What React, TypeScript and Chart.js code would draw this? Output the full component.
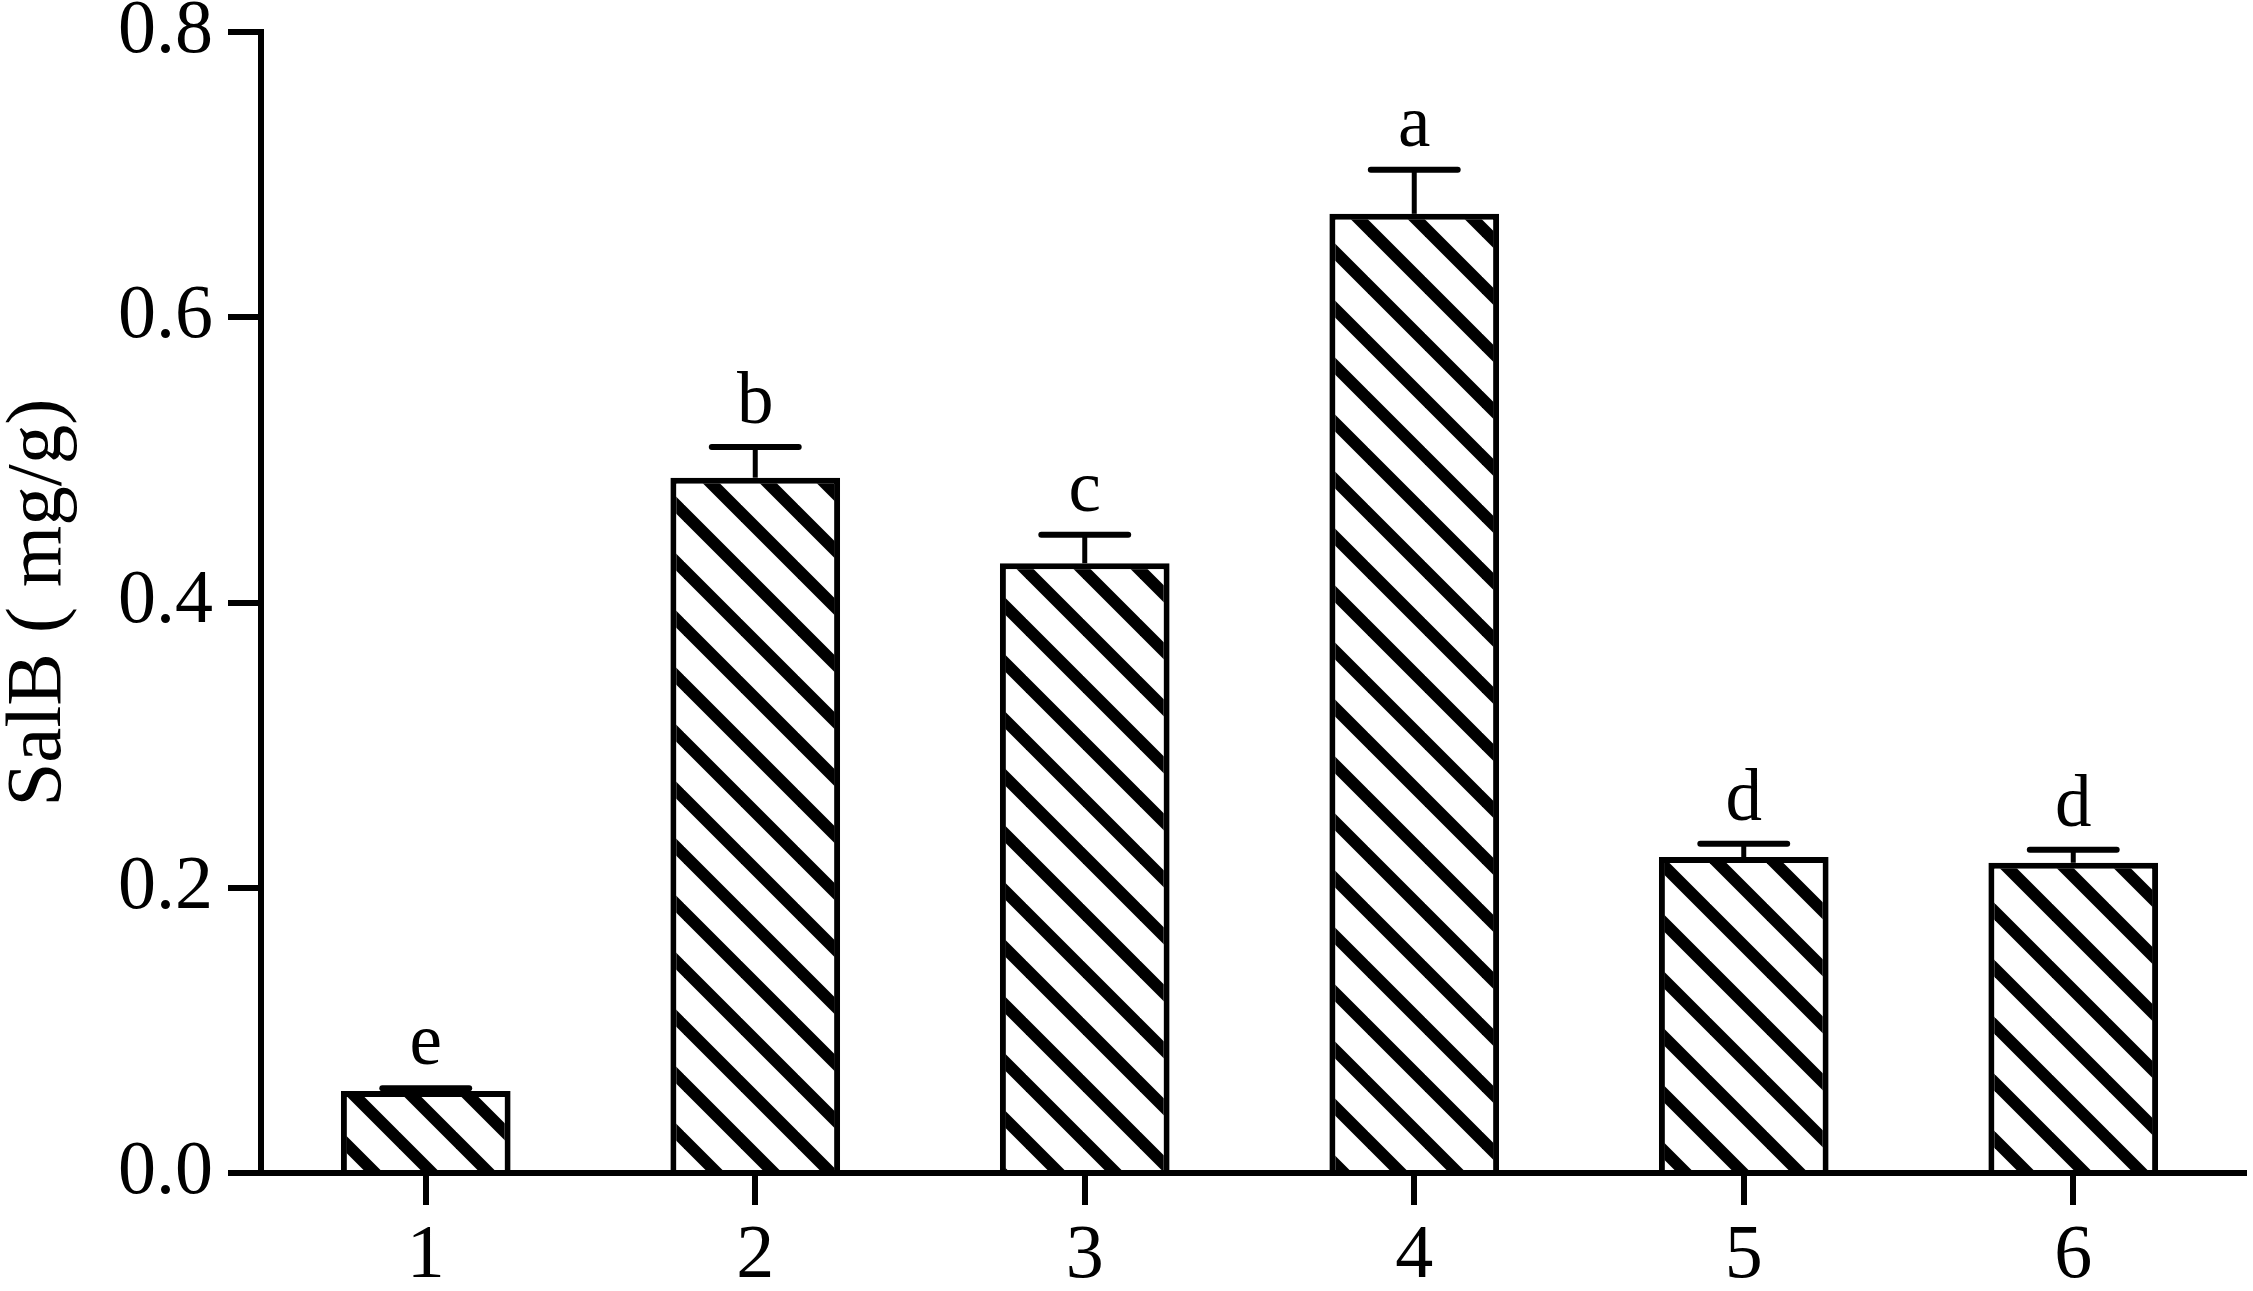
import React, { useEffect, useRef } from "react";
import { Chart, registerables } from "chart.js";

Chart.register(...registerables);

const categories = ["1", "2", "3", "4", "5", "6"];
const means = [0.0575, 0.4875, 0.4275, 0.6725, 0.2215, 0.2175];
const errors = [0.002, 0.0215, 0.020, 0.031, 0.0093, 0.0092];
const letters = ["e", "b", "c", "a", "d", "d"];
const yTicks = [0, 0.2, 0.4, 0.6, 0.8];

const FONT = '"Liberation Serif", "Times New Roman", serif';
const W = 2253;
const H = 1291;

function makePattern(): CanvasPattern | string {
  const s = 57;
  const c = document.createElement("canvas");
  c.width = s;
  c.height = s;
  const g = c.getContext("2d");
  if (!g) return "#fff";
  g.fillStyle = "#fff";
  g.fillRect(0, 0, s, s);
  g.strokeStyle = "#000";
  g.lineWidth = 12;
  for (const k of [-1, 0, 1]) {
    g.beginPath();
    g.moveTo(k * s - 10, -10);
    g.lineTo(k * s + s + 10, s + 10);
    g.stroke();
  }
  const p = g.createPattern(c, "repeat");
  return p || "#fff";
}

const errorPlugin = {
  id: "errorBarsLetters",
  afterDatasetsDraw(chart: any) {
    const ctx = chart.ctx;
    const meta = chart.getDatasetMeta(0);
    const ys = chart.scales.y;
    ctx.save();
    ctx.strokeStyle = "#000";
    ctx.fillStyle = "#000";
    meta.data.forEach((bar: any, i: number) => {
      const x = bar.x;
      const top = ys.getPixelForValue(means[i]);
      const et = ys.getPixelForValue(means[i] + errors[i]);
      const half = bar.width * 0.256;
      ctx.lineCap = "butt";
      ctx.lineWidth = 5;
      ctx.beginPath();
      ctx.moveTo(x, top);
      ctx.lineTo(x, et);
      ctx.stroke();
      ctx.lineCap = "round";
      ctx.lineWidth = 6;
      ctx.beginPath();
      ctx.moveTo(x - half, et);
      ctx.lineTo(x + half, et);
      ctx.stroke();
      ctx.font = `73px ${FONT}`;
      ctx.textAlign = "center";
      ctx.textBaseline = "alphabetic";
      ctx.fillText(letters[i], x, et - 24);
    });
    const area = chart.chartArea;
    const yb = ys.getPixelForValue(0);
    ctx.lineCap = "butt";
    ctx.lineWidth = 6;
    ctx.beginPath();
    ctx.moveTo(area.right - 2, yb);
    ctx.lineTo(area.right + 9, yb);
    ctx.stroke();
    ctx.restore();
  },
};

export default function App() {
  const ref = useRef<HTMLCanvasElement | null>(null);

  useEffect(() => {
    document.body.style.margin = "0";
    const canvas = ref.current;
    if (!canvas) return;
    const pattern = makePattern();
    const chart = new Chart(canvas, {
      type: "bar",
      data: {
        labels: categories,
        datasets: [
          {
            data: means,
            backgroundColor: pattern as any,
            borderColor: "#000",
            borderWidth: 6,
            borderSkipped: "start",
            barPercentage: 0.515,
            categoryPercentage: 1,
          },
        ],
      },
      options: {
        responsive: false,
        animation: false,
        devicePixelRatio: 1,
        layout: { padding: { top: 32, right: 15, bottom: 0, left: 0 } },
        plugins: {
          legend: { display: false },
          tooltip: { enabled: false },
          title: { display: false },
        },
        scales: {
          x: {
            offset: true,
            grid: {
              display: true,
              drawOnChartArea: false,
              drawTicks: true,
              tickLength: 32,
              lineWidth: 6,
              color: "#000",
              offset: false,
            },
            border: { display: true, width: 6, color: "#000" },
            ticks: {
              color: "#000",
              font: { family: FONT, size: 76 },
              padding: 6,
              maxRotation: 0,
            },
            afterFit(scale: any) {
              scale.height = H - 32 - 1141;
              scale.paddingLeft = 0;
              scale.paddingRight = 0;
            },
          },
          y: {
            min: 0,
            max: 0.8,
            afterBuildTicks(scale: any) {
              scale.ticks = yTicks.map((v) => ({ value: v }));
            },
            grid: {
              display: true,
              drawOnChartArea: false,
              drawTicks: true,
              tickLength: 33,
              lineWidth: 6,
              color: "#000",
            },
            border: { display: true, width: 6, color: "#000" },
            ticks: {
              color: "#000",
              font: { family: FONT, size: 76 },
              padding: 15,
              callback: (v: any) => Number(v).toFixed(1),
            },
            title: {
              display: true,
              text: "SalB ( mg/g)",
              color: "#000",
              font: { family: FONT, size: 79, lineHeight: 1 },
              padding: { top: 0, bottom: 0 },
            },
            afterFit(scale: any) {
              scale.width = 261;
              scale.paddingTop = 0;
              scale.paddingBottom = 0;
            },
          },
        },
      },
      plugins: [errorPlugin],
    });
    return () => chart.destroy();
  }, []);

  return (
    <div style={{ width: W, height: H, background: "#fff" }}>
      <canvas ref={ref} width={W} height={H} style={{ display: "block", width: W, height: H }} />
    </div>
  );
}
